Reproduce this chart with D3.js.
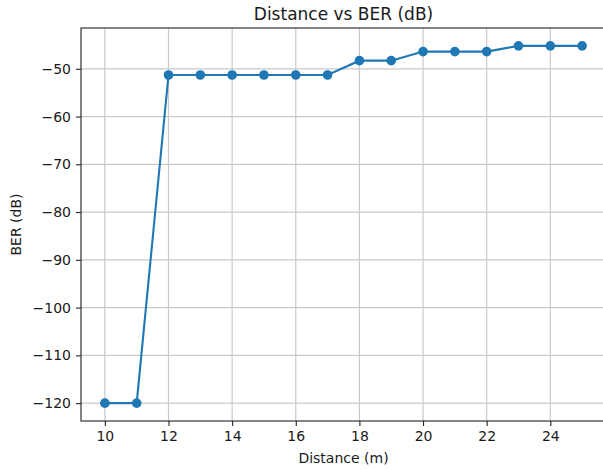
<!DOCTYPE html>
<html>
<head>
<meta charset="utf-8">
<script src="https://cdn.jsdelivr.net/npm/d3@7"></script>
<style>
  body { margin: 0; background: #fff; }
  text { font-family: "DejaVu Sans", sans-serif; fill: #1a1a1a; }
</style>
</head>
<body>
<div id="chart"></div>
<script>
// data
const distances = [10, 11, 12, 13, 14, 15, 16, 17, 18, 19, 20, 21, 22, 23, 24, 25];
const berValues = [-120, -120, -51.3, -51.3, -51.3, -51.3, -51.3, -51.3,
                   -48.3, -48.3, -46.4, -46.4, -46.4, -45.2, -45.2, -45.2];
const xTicks = [10, 12, 14, 16, 18, 20, 22, 24];
const yTicks = [-50, -60, -70, -80, -90, -100, -110, -120];

const W = 603, H = 470;
// plot box (right edge falls just outside the picture, as in the reference)
const box = { left: 81, right: 606, top: 28, bottom: 421 };

const svg = d3.select("#chart").append("svg")
  .attr("width", W).attr("height", H);

const points = distances.map((d, i) => ({ x: d, y: berValues[i] }));

// matplotlib style 5% margins
const xExt = d3.extent(distances), yExt = d3.extent(berValues);
const xPad = (xExt[1] - xExt[0]) * 0.05, yPad = (yExt[1] - yExt[0]) * 0.05;

const x = d3.scaleLinear().domain([xExt[0] - xPad, xExt[1] + xPad]).range([box.left, box.right]);
const y = d3.scaleLinear().domain([yExt[0] - yPad, yExt[1] + yPad]).range([box.bottom, box.top]);

const minus = v => String(v).replace("-", "\u2212");

// grid
const grid = svg.append("g").attr("stroke", "#c9c9c9").attr("stroke-width", 1.2);
grid.selectAll(".gx").data(xTicks).enter().append("line")
  .attr("x1", d => x(d)).attr("x2", d => x(d))
  .attr("y1", box.top).attr("y2", box.bottom);
grid.selectAll(".gy").data(yTicks).enter().append("line")
  .attr("x1", box.left).attr("x2", box.right)
  .attr("y1", d => y(d)).attr("y2", d => y(d));

// axes
const xAxis = svg.append("g")
  .attr("transform", "translate(0," + box.bottom + ")")
  .call(d3.axisBottom(x).tickValues(xTicks).tickSize(5).tickPadding(5).tickFormat(d3.format("d")));
const yAxis = svg.append("g")
  .attr("transform", "translate(" + box.left + ",0)")
  .call(d3.axisLeft(y).tickValues(yTicks).tickSize(5).tickPadding(5).tickFormat(minus));

[xAxis, yAxis].forEach(a => {
  a.select(".domain").remove();
  a.selectAll(".tick line").attr("stroke", "#222").attr("stroke-width", 1.1);
  a.selectAll(".tick text").style("font-size", "14px").attr("fill", "#222");
});

// frame
svg.append("rect")
  .attr("x", box.left).attr("y", box.top)
  .attr("width", box.right - box.left).attr("height", box.bottom - box.top)
  .attr("fill", "none").attr("stroke", "#222").attr("stroke-width", 1.1);

// line + markers
const line = d3.line().x(d => x(d.x)).y(d => y(d.y));
svg.append("path")
  .datum(points)
  .attr("d", line)
  .attr("fill", "none")
  .attr("stroke", "#1f77b4")
  .attr("stroke-width", 2.1);

svg.append("g").selectAll("circle")
  .data(points).enter().append("circle")
  .attr("cx", d => x(d.x))
  .attr("cy", d => y(d.y))
  .attr("r", 4.8)
  .attr("fill", "#1f77b4");

// labels
svg.append("text")
  .attr("x", (box.left + box.right) / 2).attr("y", 20)
  .attr("text-anchor", "middle")
  .style("font-size", "17px")
  .text("Distance vs BER (dB)");

svg.append("text")
  .attr("x", (box.left + box.right) / 2).attr("y", 463)
  .attr("text-anchor", "middle")
  .style("font-size", "14px")
  .text("Distance (m)");

svg.append("text")
  .attr("transform", "translate(21," + ((box.top + box.bottom) / 2) + ") rotate(-90)")
  .attr("text-anchor", "middle")
  .style("font-size", "14px")
  .text("BER (dB)");
</script>
</body>
</html>
